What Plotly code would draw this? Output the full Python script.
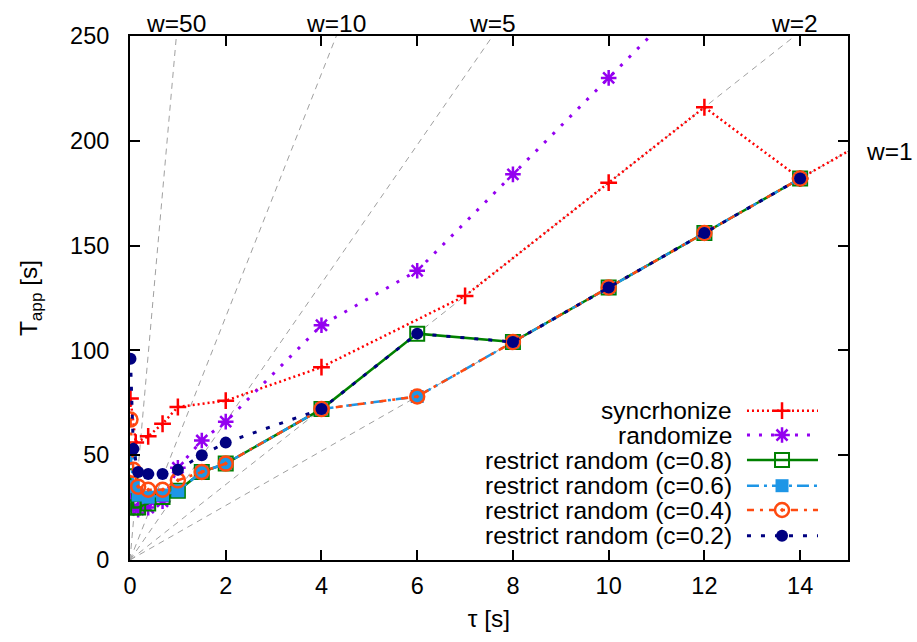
import plotly.graph_objects as go

# ---------------- data ----------------
tau = [0.01, 0.07, 0.17, 0.38, 0.68, 1.0, 1.5, 2, 4, 6, 8, 10, 12, 14]

sync_tau = [0.01, 0.12, 0.38, 0.68, 1.0, 2, 4, 7, 10, 12, 14, 16]
sync_val = [77, 56, 59, 65, 73, 76, 92, 126, 180, 216, 182, 208]

rand_tau = [0.01, 0.07, 0.17, 0.38, 0.68, 1.0, 1.5, 2, 4, 6, 8, 10, 12]
rand_val = [32, 25, 24, 25, 28, 44, 57, 66, 112, 138, 184, 230, 276]

c08_val = [40, 25, 25, 27, 30, 33, 42, 46, 72, 108, 104, 130, 156, 182]
c06_val = [51, 35, 31, 30, 31, 33, 42, 46, 72, 78, 104, 130, 156, 182]
c04_val = [67, 43, 35, 33.5, 33.5, 38, 42, 46, 72, 78, 104, 130, 156, 182]
c02_val = [96, 53, 42, 41, 41, 43, 50, 56, 72, 108, 104, 130, 156, 182]

# reference lines T = k * tau, labelled by w
w_labels = ["w=50", "w=10", "w=5", "w=2", "w=1"]
w_slopes = [258, 58, 33, 18, 13]

x_ticks = [0, 2, 4, 6, 8, 10, 12, 14]
y_ticks = [0, 50, 100, 150, 200, 250]

FONT = "Liberation Sans, Arial, Helvetica, sans-serif"
FS = 24.5
TFS = 23.5

series = [
    dict(name="syncrhonize", x=sync_tau, y=sync_val, color="#FF0000",
         dash="2px,3px", width=2.5, symbol="cross-thin-open", size=12, mlw=2.5),
    dict(name="randomize", x=rand_tau, y=rand_val, color="#9400F0",
         dash="3px,9px", width=3, symbol="asterisk-open", size=13, mlw=2.5),
    dict(name="restrict random (c=0.8)", x=tau, y=c08_val, color="#008000",
         dash="solid", width=2.5, symbol="square-open", size=14, mlw=2),
    dict(name="restrict random (c=0.6)", x=tau, y=c06_val, color="#1E96E6",
         dash="12px,5px,3px,5px", width=2.5, symbol="square", size=13, mlw=0),
    dict(name="restrict random (c=0.4)", x=tau, y=c04_val, color="#FF4A10",
         dash="7px,6px,3px,6px", width=2.5, symbol="circle-open-dot", size=14, mlw=2.5),
    dict(name="restrict random (c=0.2)", x=tau, y=c02_val, color="#000080",
         dash="4px,10px", width=3, symbol="circle", size=12, mlw=0),
]

fig = go.Figure()

# gray reference lines
for lab, k in zip(w_labels, w_slopes):
    fig.add_trace(go.Scatter(x=[0, 20], y=[0, 20 * k], mode="lines",
                             line=dict(color="#A0A0A0", width=1, dash="6px,5px"),
                             showlegend=False, hoverinfo="skip"))

for s in series:
    fig.add_trace(go.Scatter(
        x=s["x"], y=s["y"], mode="lines+markers", name=s["name"],
        line=dict(color=s["color"], width=s["width"], dash=s["dash"]),
        marker=dict(symbol=s["symbol"], size=s["size"], color=s["color"],
                    line=dict(color=s["color"], width=s["mlw"])),
        showlegend=False))

# custom gnuplot-style legend (text left, sample right)
leg_rows = [0.2849, 0.2385, 0.1908, 0.1418, 0.0954, 0.0464]
for s, yy in zip(series, leg_rows):
    fig.add_trace(go.Scatter(
        x=[0.8593, 0.9582], y=[yy, yy], mode="lines", xaxis="x2", yaxis="y2",
        line=dict(color=s["color"], width=s["width"], dash=s["dash"]),
        showlegend=False, hoverinfo="skip"))
    fig.add_trace(go.Scatter(
        x=[0.9081], y=[yy], mode="markers", xaxis="x2", yaxis="y2",
        marker=dict(symbol=s["symbol"], size=s["size"], color=s["color"],
                    line=dict(color=s["color"], width=s["mlw"])),
        showlegend=False, hoverinfo="skip"))
    fig.add_annotation(x=0.8357, y=yy, xref="paper", yref="paper", text=s["name"],
                       showarrow=False, xanchor="right", yanchor="middle", xshift=4,
                       font=dict(family=FONT, size=FS, color="black"))

# w labels at top
for lab, k in zip(w_labels[:-1], w_slopes[:-1]):
    fig.add_annotation(x=250 / k, y=1, xref="x", yref="paper", text=lab,
                       showarrow=False, xanchor="center", yanchor="bottom",
                       yshift=-3, font=dict(family=FONT, size=FS, color="black"))
fig.add_annotation(x=1, y=15 * w_slopes[-1], xref="paper", yref="y", text=w_labels[-1],
                   showarrow=False, xanchor="left", yanchor="middle", xshift=16,
                   font=dict(family=FONT, size=FS, color="black"))

axis_common = dict(showline=True, linecolor="black", linewidth=2, mirror="ticks",
                   ticks="inside", ticklen=10, tickwidth=1.5, tickcolor="black",
                   showgrid=False, zeroline=False, automargin=False,
                   tickfont=dict(family=FONT, size=TFS, color="black"))

fig.update_layout(
    width=917, height=642,
    margin=dict(l=130, r=69, t=36, b=82, autoexpand=False),
    plot_bgcolor="white", paper_bgcolor="white",
    font=dict(family=FONT, size=FS, color="black"),
    xaxis=dict(range=[0, 15], tickvals=x_ticks, ticklabelstandoff=4,
               title=dict(text="τ [s]", standoff=12, font=dict(family=FONT, size=FS)),
               **axis_common),
    yaxis=dict(range=[0, 250], tickvals=y_ticks, ticklabelstandoff=14,
               title=dict(text="T<sub>app</sub> [s]", standoff=26, font=dict(family=FONT, size=FS)),
               **axis_common),
    xaxis2=dict(range=[0, 1], overlaying="x", visible=False, anchor="y2"),
    yaxis2=dict(range=[0, 1], overlaying="y", visible=False, anchor="x2"),
)

fig.write_html("out.html", config={"displayModeBar": False},
               post_script="document.body.style.margin='0px';document.body.style.padding='0px';")
